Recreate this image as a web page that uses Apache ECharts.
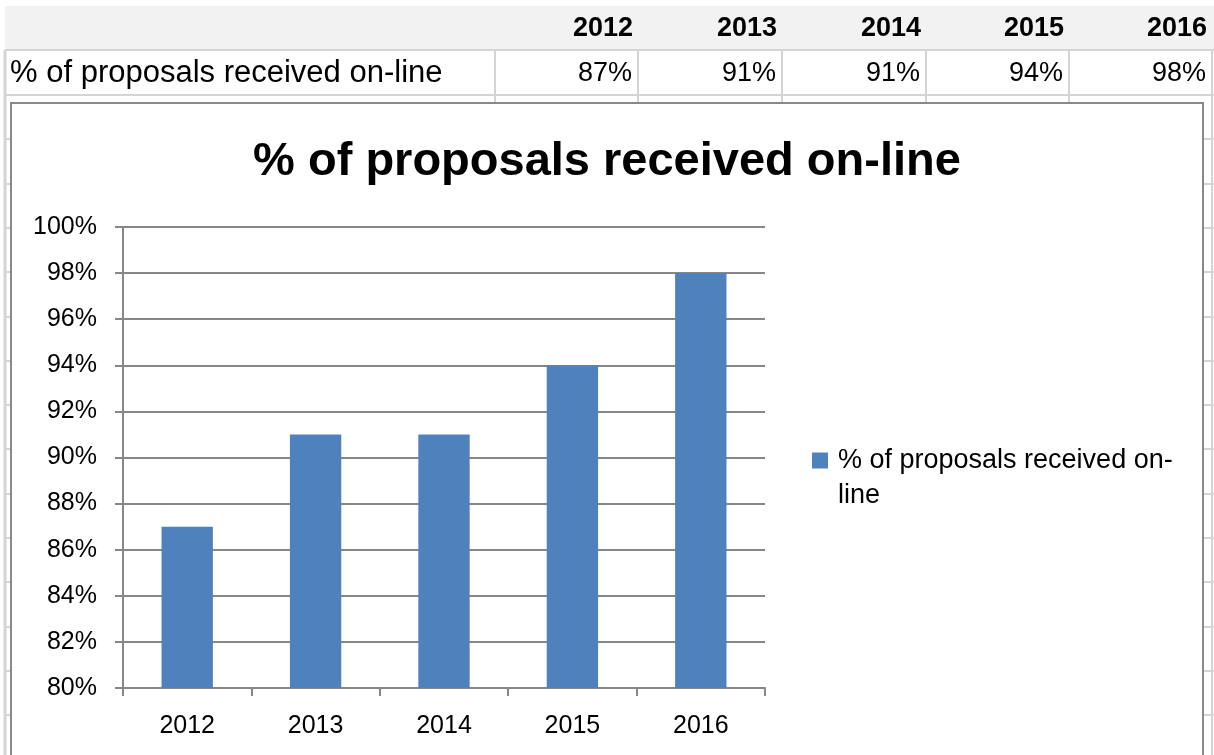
<!DOCTYPE html>
<html>
<head>
<meta charset="utf-8">
<script src="https://cdn.jsdelivr.net/npm/echarts@6/dist/echarts.min.js"></script>
<style>
  html, body { margin: 0; padding: 0; background: #ffffff; }
  #chart { width: 1214px; height: 755px; }
</style>
</head>
<body>
<div id="chart"></div>
<script>
// Share of proposals received on-line, by year
const years = ['2012', '2013', '2014', '2015', '2016'];
const onlineShare = [87, 91, 91, 94, 98];
const seriesName = '% of proposals received on-line';
const axisMin = 80;
const axisMax = 100;
const axisStep = 2;

const FONT = '"Liberation Sans", Arial, sans-serif';

// Worksheet layout (cells behind the chart object)
const colEdges = [495, 638, 782, 926, 1069, 1212];
const headerTop = 6, headerBottom = 50, rowBottom = 95, rowH = 44.3;
const chartBox = { x: 11, y: 103, w: 1192, h: 700 };
const lineColor = '#d4d4d4';

const sheet = [];
sheet.push({ type: 'rect', z: -30, shape: { x: 5, y: headerTop, width: 1209, height: headerBottom - headerTop }, style: { fill: '#f2f2f2' } });

const rowLines = [headerBottom, rowBottom];
for (let y = rowBottom + rowH; y < 755; y += rowH) rowLines.push(Math.round(y));
rowLines.forEach(y => sheet.push({ type: 'line', z: -29, shape: { x1: 5, y1: y, x2: 1214, y2: y }, style: { stroke: lineColor, lineWidth: 2 } }));
[5].concat(colEdges).forEach(x => sheet.push({ type: 'line', z: -29, shape: { x1: x, y1: headerBottom, x2: x, y2: 755 }, style: { stroke: lineColor, lineWidth: x === 5 ? 3 : 2 } }));

// header row: years
years.forEach((yr, i) => sheet.push({
  type: 'text', z: -28, x: colEdges[i + 1] - 5, y: (headerTop + headerBottom) / 2 + 1,
  style: { text: yr, font: 'bold 27px ' + FONT, fill: '#000', align: 'right', verticalAlign: 'middle' }
}));
// data row: label and values
sheet.push({
  type: 'text', z: -28, x: 10, y: (headerBottom + rowBottom) / 2 + 1,
  style: { text: seriesName, font: '31px ' + FONT, fill: '#000', align: 'left', verticalAlign: 'middle' }
});
onlineShare.forEach((v, i) => sheet.push({
  type: 'text', z: -28, x: colEdges[i + 1] - 6, y: (headerBottom + rowBottom) / 2 + 1,
  style: { text: v + '%', font: '27px ' + FONT, fill: '#000', align: 'right', verticalAlign: 'middle' }
}));

// chart object frame
sheet.push({
  type: 'rect', z: -10, shape: { x: chartBox.x, y: chartBox.y, width: chartBox.w, height: chartBox.h },
  style: { fill: '#ffffff', stroke: '#898989', lineWidth: 2 }
});

const gridColor = '#878787';

const chart = echarts.init(document.getElementById('chart'), null, { renderer: 'canvas' });
chart.setOption({
  backgroundColor: '#ffffff',
  animation: false,
  graphic: { elements: sheet },
  title: {
    text: seriesName,
    left: 'center',
    top: 134,
    textStyle: { fontFamily: FONT, fontSize: 47, fontWeight: 'bold', color: '#000' }
  },
  legend: {
    left: 812,
    top: 408,
    padding: 0,
    itemWidth: 16,
    itemHeight: 16,
    icon: 'rect',
    formatter: () => '\n' + seriesName.replace('on-line', 'on-\nline'),
    textStyle: { fontFamily: FONT, fontSize: 27, color: '#000', lineHeight: 35, padding: [0, 0, 0, 5] },
    data: [seriesName]
  },
  grid: { left: 123, right: 449, top: 227, bottom: 67, containLabel: false },
  xAxis: {
    type: 'category',
    data: years,
    axisLine: { show: true, lineStyle: { color: gridColor, width: 2 } },
    axisTick: { show: true, length: 8, alignWithLabel: false, lineStyle: { color: gridColor, width: 2 } },
    axisLabel: { color: '#000', fontFamily: FONT, fontSize: 25, margin: 26 },
    splitLine: { show: false }
  },
  yAxis: {
    type: 'value',
    min: axisMin,
    max: axisMax,
    interval: axisStep,
    axisLine: { show: true, lineStyle: { color: gridColor, width: 2 } },
    axisTick: { show: true, length: 8, lineStyle: { color: gridColor, width: 2 } },
    axisLabel: { color: '#000', fontFamily: FONT, fontSize: 25, margin: 26, formatter: '{value}%' },
    splitLine: { show: true, lineStyle: { color: gridColor, width: 2 } }
  },
  series: [{
    name: seriesName,
    type: 'bar',
    data: onlineShare,
    barCategoryGap: '60%',
    itemStyle: { color: '#4f81bd' }
  }]
});
</script>
</body>
</html>
